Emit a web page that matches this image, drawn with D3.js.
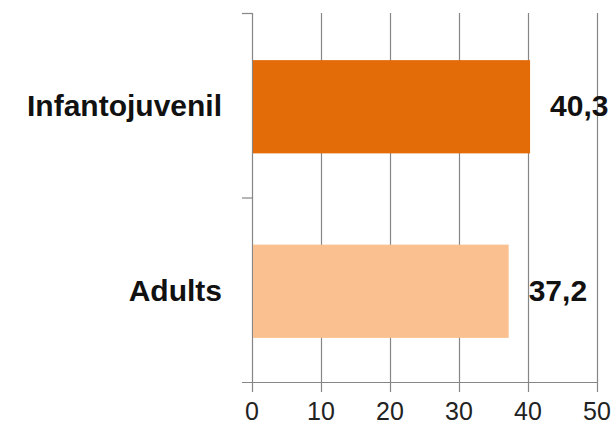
<!DOCTYPE html>
<html>
<head>
<meta charset="utf-8">
<script src="https://cdn.jsdelivr.net/npm/d3@7"></script>
<style>
  body { margin: 0; background: #fff; }
  svg { display: block; font-family: "Liberation Sans", Arial, sans-serif; }
</style>
</head>
<body>
<svg></svg>
<script>
const WIDTH = 615
const HEIGHT = 426
const categories = ['Infantojuvenil', 'Adults']
const values = [40.3, 37.2]
const valueLabels = ['40,3', '37,2']
const colors = ['#E36C09', '#FAC090']
const ticks = [0, 10, 20, 30, 40, 50]

const margin = { top: 13, right: 18, bottom: 44, left: 252 }

const svg = d3.select('svg')
  .attr('width', WIDTH)
  .attr('height', HEIGHT)

const x = d3.scaleLinear()
  .domain([0, 50])
  .range([margin.left, WIDTH - margin.right])

const y = d3.scaleBand()
  .domain(categories)
  .range([margin.top, HEIGHT - margin.bottom])
  .paddingInner(0.5)
  .paddingOuter(0.25)

const y0 = margin.top, y1 = HEIGHT - margin.bottom

// vertical gridlines
svg.append('g')
  .selectAll('line')
  .data(ticks)
  .enter().append('line')
  .attr('x1', d => x(d) + 0.5)
  .attr('x2', d => x(d) + 0.5)
  .attr('y1', y0)
  .attr('y2', y1 + 10)
  .attr('stroke', '#868686')
  .attr('stroke-width', 1.2)

// y axis ticks at band boundaries
const bounds = [y0, y0 + (y1 - y0) / 2]
svg.append('g')
  .selectAll('line')
  .data(bounds)
  .enter().append('line')
  .attr('x1', x(0) - 10)
  .attr('x2', x(0) + 0.5)
  .attr('y1', d => d + 0.5)
  .attr('y2', d => d + 0.5)
  .attr('stroke', '#868686')
  .attr('stroke-width', 1.2)

// bottom axis line
svg.append('line')
  .attr('x1', x(0) - 10)
  .attr('x2', x(50) + 0.5)
  .attr('y1', y1 + 0.5)
  .attr('y2', y1 + 0.5)
  .attr('stroke', '#868686')
  .attr('stroke-width', 1.2)

// bars
svg.append('g')
  .selectAll('rect')
  .data(categories)
  .enter().append('rect')
  .attr('x', x(0) + 1)
  .attr('y', d => y(d) + 1)
  .attr('width', (d, i) => x(values[i]) - x(0) - 1)
  .attr('height', y.bandwidth() + 1)
  .attr('fill', (d, i) => colors[i])

// category labels
svg.append('g')
  .selectAll('text')
  .data(categories)
  .enter().append('text')
  .attr('x', x(0) - 30)
  .attr('y', d => y(d) + y.bandwidth() / 2 + 11)
  .attr('text-anchor', 'end')
  .attr('font-weight', 'bold')
  .attr('font-size', 30)
  .attr('fill', '#111')
  .text(d => d)

// value labels
svg.append('g')
  .selectAll('text')
  .data(categories)
  .enter().append('text')
  .attr('x', (d, i) => x(values[i]) + 20)
  .attr('y', d => y(d) + y.bandwidth() / 2 + 11)
  .attr('font-weight', 'bold')
  .attr('font-size', 30)
  .attr('fill', '#111')
  .text((d, i) => valueLabels[i])

// tick labels
svg.append('g')
  .selectAll('text')
  .data(ticks)
  .enter().append('text')
  .attr('x', d => x(d))
  .attr('y', y1 + 38)
  .attr('text-anchor', 'middle')
  .attr('font-size', 25)
  .attr('fill', '#222')
  .text(d => d)
</script>
</body>
</html>
